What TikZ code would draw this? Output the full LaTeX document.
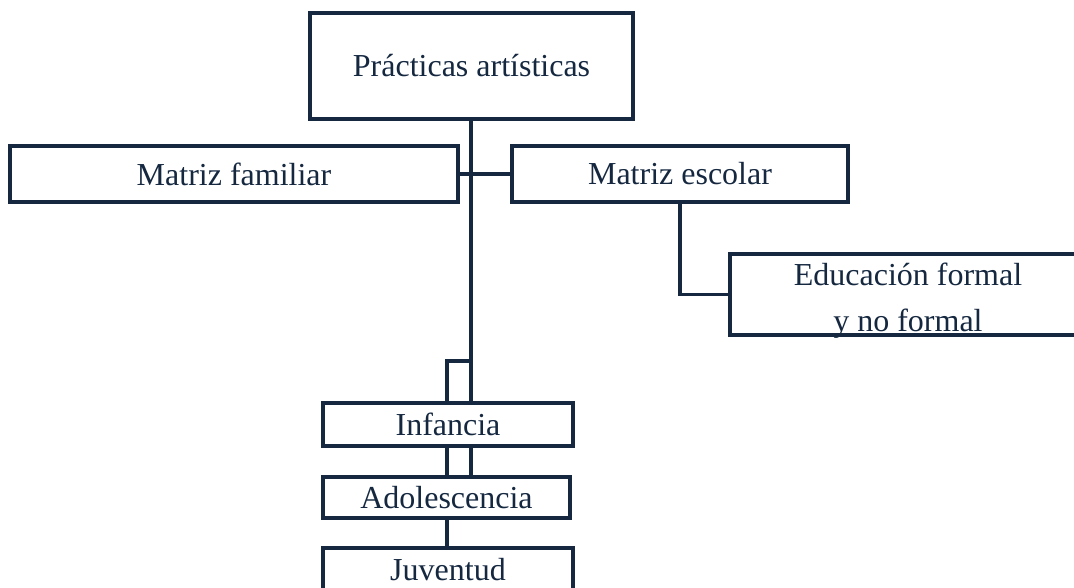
\documentclass[tikz,border=0pt]{standalone}
\usepackage{fontspec}
\setmainfont{Liberation Serif}
\definecolor{navy}{HTML}{152840}
\newcommand{\lowline}[1]{\raisebox{-13.5pt}[0pt][0pt]{#1}}
\begin{document}
\begin{tikzpicture}[x=1pt,y=-1pt,
  box/.style={draw=navy,line width=3.2pt,rectangle,inner sep=0pt,
    font=\fontsize{32}{46}\selectfont,text=navy,align=center},
  link/.style={draw=navy,line width=3.2pt}]
\useasboundingbox (0,0) rectangle (1074,587);
\clip (0,0) rectangle (1074,587);
\fill[white] (0,0) rectangle (1074,587);
\node[box,minimum width=323pt,minimum height=106pt] (top) at (471.5,66) {Prácticas artísticas};
\node[box,minimum width=448pt,minimum height=56pt] (fam) at (234,174) {Matriz familiar};
\node[box,minimum width=336pt,minimum height=56pt] (esc) at (680,174) {Matriz escolar};
\node[box,minimum width=356pt,minimum height=81pt] (edu) at (908,294.5) {\lowline{Educación formal}\\\lowline{y no formal}};
\node[box,minimum width=250pt,minimum height=43pt] (inf) at (448,424.5) {Infancia};
\node[box,minimum width=247pt,minimum height=41pt] (ado) at (446.5,497.5) {Adolescencia};
\node[box,minimum width=250pt,minimum height=44pt] (juv) at (448,570) {Juventud};
\coordinate (tr) at (471,119);
\coordinate (loopR) at (471,361);
\coordinate (loopL) at (447,361);
\draw[link] (tr) -- (tr |- inf.north);
\draw[link] (fam.east) -- (esc.west);
\draw[link] (esc.south) |- (edu.west);
\draw[link] (loopL |- inf.north) -- (loopL) -- (loopR);
\draw[link] (loopL |- inf.south) -- (loopL |- ado.north);
\draw[link] (loopR |- inf.south) -- (loopR |- ado.north);
\draw[link] (loopL |- ado.south) -- (loopL |- juv.north);
\end{tikzpicture}
\end{document}
